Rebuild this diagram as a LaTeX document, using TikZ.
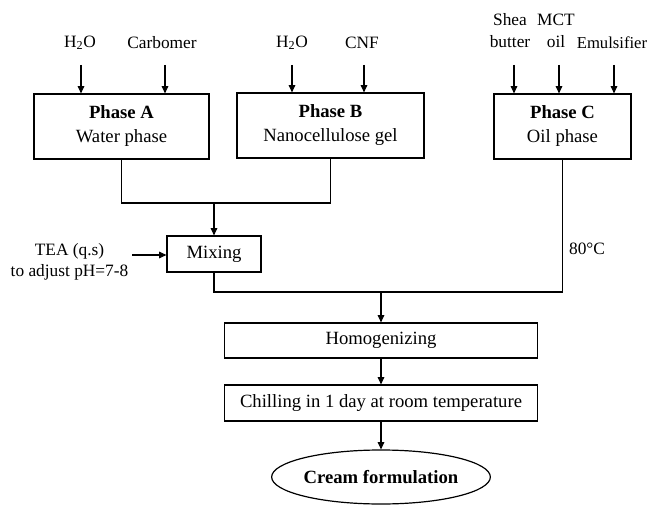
\documentclass[tikz,border=0pt]{standalone}
\usepackage{fontspec}
\setmainfont{Liberation Serif}
\usetikzlibrary{shapes.geometric,arrows.meta}
\begin{document}
\begin{tikzpicture}[x=0.75pt,y=-0.75pt,
  arr/.style={-{Triangle[length=5.5pt,width=5pt]}, line width=0.8pt},
  conn/.style={line width=0.8pt},
  box/.style={draw, line width=0.9pt, inner sep=0pt, align=center, font=\fontsize{14}{18}\selectfont},
  lbl/.style={font=\fontsize{13}{16.5}\selectfont, inner sep=0pt, align=center}]
\useasboundingbox (0,0) rectangle (649,506);

% boxes
\node[box, minimum width=131.25pt, minimum height=48.75pt] (pa) at (121.5,126.5) {\textbf{Phase A}\\Water phase};
\node[box, minimum width=140.25pt, minimum height=48.75pt] (pb) at (330.5,125.5) {\textbf{Phase B}\\Nanocellulose gel};
\node[box, minimum width=102.75pt, minimum height=48.75pt] (pc) at (562.5,126.5) {\textbf{Phase C}\\Oil phase};
\node[box, minimum width=70.5pt, minimum height=27pt] (mix) at (214,254) {Mixing};
\node[box, minimum width=234.75pt, minimum height=26.25pt] (hom) at (381,340.5) {Homogenizing};
\node[box, minimum width=234.75pt, minimum height=27pt] (chill) at (381,403) {Chilling in 1 day at room temperature};
\node[draw, ellipse, line width=0.9pt, minimum width=132pt, minimum height=40.5pt, inner sep=0pt,
      font=\bfseries\fontsize{14}{18}\selectfont] (cream) at (381,477) {Cream formulation};

% input labels
\node[lbl] (h2oa) at (80,43) {H\textsubscript{2}O};
\node[lbl] (carb) at (162,43) {Carbomer};
\node[lbl] (h2ob) at (292,43) {H\textsubscript{2}O};
\node[lbl] (cnf) at (362,43) {CNF};
\node[lbl] (shea) at (510,31) {Shea\\butter};
\node[lbl] (mct) at (556,31) {MCT\\oil};
\node[lbl, font=\fontsize{12.5}{15}\selectfont] (emul) at (612,43) {Emulsifier};
\node[lbl, font=\fontsize{13}{15.5}\selectfont] (tea) at (69.5,261.5) {TEA (q.s)\\to adjust pH=7-8};
\node[lbl] (temp) at (587,249) {80°C};

% input arrows
\coordinate (s1) at (81,65);
\coordinate (s2) at (165,65);
\coordinate (s3) at (292,65);
\coordinate (s4) at (364,65);
\coordinate (s5) at (514,65);
\coordinate (s6) at (559,65);
\coordinate (s7) at (614,65);
\draw[arr] (s1) -- (s1 |- pa.north);
\draw[arr] (s2) -- (s2 |- pa.north);
\draw[arr] (s3) -- (s3 |- pb.north);
\draw[arr] (s4) -- (s4 |- pb.north);
\draw[arr] (s5) -- (s5 |- pc.north);
\draw[arr] (s6) -- (s6 |- pc.north);
\draw[arr] (s7) -- (s7 |- pc.north);

% flow
\coordinate (jab) at (214,203);
\draw[conn] (pa.south) |- (jab) -| (pb.south);
\draw[arr] (jab) -- (mix.north);
\coordinate (t1) at (132,255);
\draw[arr] (t1) -- (t1 -| mix.west);
\coordinate (jm) at (381,292);
\draw[conn] (mix.south) |- (jm) -| (pc.south);
\draw[arr] (jm) -- (hom.north);
\draw[arr] (hom.south) -- (chill.north);
\draw[arr] (chill.south) -- (cream.north);
\end{tikzpicture}
\end{document}
